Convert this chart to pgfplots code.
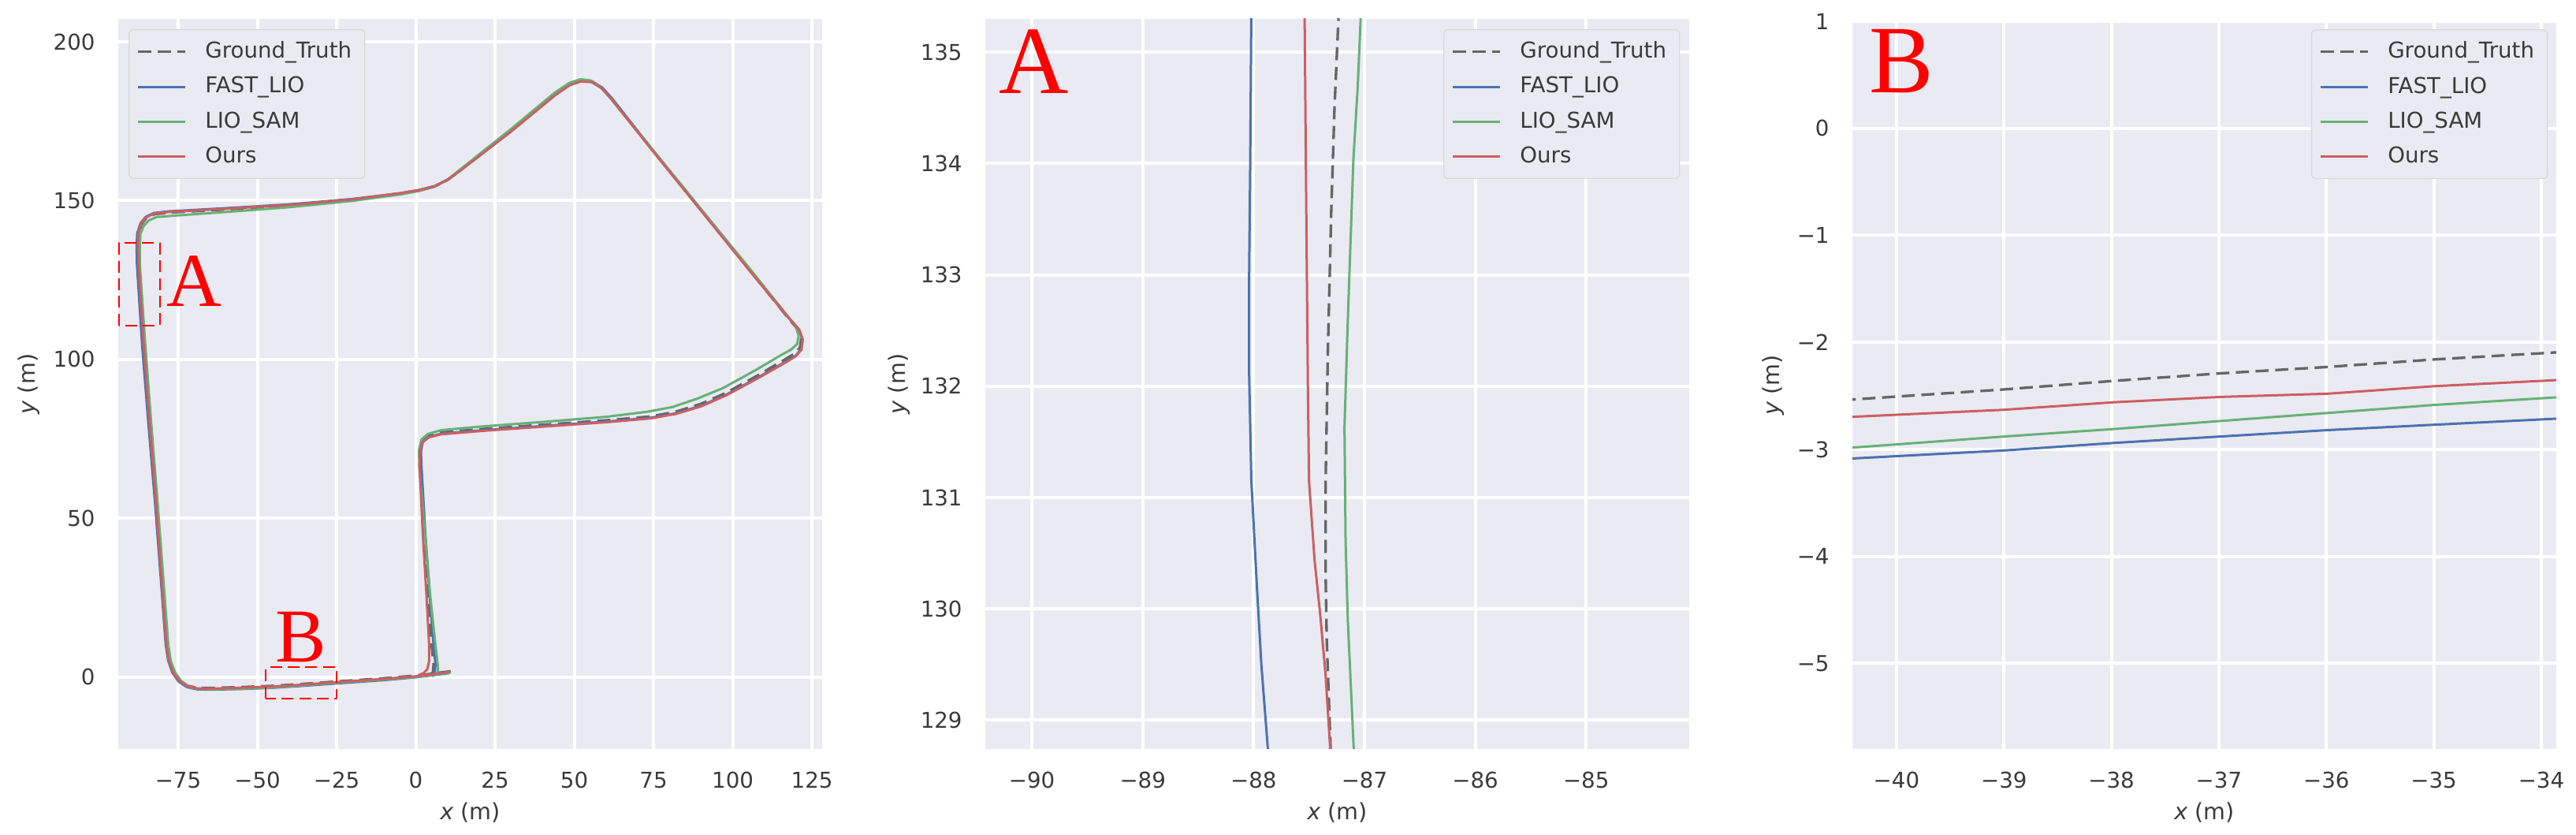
\documentclass[border=0pt]{standalone}
\usepackage{fontspec}
\setmainfont{DejaVu Sans}
\newfontfamily\serifA{Liberation Serif}
\usepackage{pgfplots}
\pgfplotsset{compat=1.18}

\definecolor{bgcol}{HTML}{EAEAF2}
\definecolor{txt}{HTML}{3A3A3A}
\definecolor{gtcol}{HTML}{666666}
\definecolor{fastcol}{HTML}{4C72B0}
\definecolor{samcol}{HTML}{55A868}
\definecolor{ourcol}{HTML}{C44E52}
\newcommand{\lgap}[1]{\hbox{\hspace*{5pt}#1}}

\pgfplotsset{
  traj/.style={
    scale only axis, width=267.9pt, height=277.8pt,
    axis background/.style={fill=bgcol},
    axis line style={draw=none},
    major tick length=0pt,
    grid=major, grid style={white, line width=1.2pt},
    tick label style={font=\fontsize{8.3}{10}\selectfont, text=txt},
    label style={font=\fontsize{8.6}{10}\selectfont, text=txt},
    /pgf/number format/assume math mode=true,
    xticklabel style={yshift=-5.3pt},
    yticklabel style={xshift=-5.3pt},
    xlabel={{\itshape x} (m)}, ylabel={{\itshape y} (m)},
    xlabel style={at={(axis description cs:0.5,-0.0875)}, anchor=center},
    legend style={font=\fontsize{8.3}{10}\selectfont, text=txt, fill=bgcol,
      draw=black!15, rounded corners=1.5pt, row sep=1.6pt,
      inner xsep=3pt, inner ysep=2.5pt},
    legend cell align=left,
    legend image code/.code={\draw[#1] (0pt,0pt) -- (18pt,0pt);},
  },
  gt/.style={gtcol, line width=1.0pt, dash pattern=on 5pt off 2.5pt},
  fl/.style={fastcol, line width=0.9pt},
  ls/.style={samcol!90!white, line width=0.9pt},
  ou/.style={ourcol!90!white, line width=0.9pt},
}

\begin{document}
\begin{tikzpicture}
\useasboundingbox (0,0) rectangle (980.4pt,317.7pt);

% ---- full trajectory ----
\begin{axis}[traj, at={(45pt,32.7pt)}, anchor=south west,
  xmin=-93.9, xmax=128.2, ymin=-22.7, ymax=207.2,
  xtick={-75,-50,-25,0,25,50,75,100,125},
  xticklabels={−75,−50,−25,0,25,50,75,100,125},
  ytick={0,50,100,150,200},
  ylabel style={at={(axis description cs:-0.1265,0.5)}, anchor=center},
  legend style={at={(axis description cs:0.0146,0.986)}, anchor=north west},
  line join=round,
  every axis plot/.append style={line width=1.1pt}]
\addplot[gt] coordinates {(11,1.8) (5,1.0) (0,0.4) (-10,-0.4) (-20,-1.1) (-30,-1.8) (-37,-2.3) (-45,-2.8) (-55,-3.2) (-65,-3.5) (-69,-3.4) (-72,-2.8) (-74.5,-1.2) (-76.5,1.5) (-77.8,5) (-78.6,10) (-80,30) (-81.8,55) (-83.8,80) (-85.7,105) (-87.3,130) (-87.6,136) (-87.5,139.5) (-86.6,142.5) (-85,144.5) (-82.5,145.7) (-78,146.2) (-60,147.2) (-40,148.5) (-20,150.3) (-5,152.2) (1,153.2) (6,154.5) (10,156.5) (14,159.5) (30,172) (44,183.5) (48.5,186.5) (52,187.7) (55.5,187.4) (58.5,185.5) (61.5,182.3) (75,165.5) (90,147) (105,128.5) (117.5,113) (120.5,109.5) (121.6,106.5) (121.2,103.7) (119.5,101.8) (116.5,100) (108,95) (98,89.5) (90,86) (82,83.5) (74,82) (60,80.8) (40,79.4) (20,78) (8,77) (4,76) (2,74.5) (1.3,71.5) (1.4,66) (2.5,45) (3.8,25) (5,10) (5.6,4) (5.4,1.5) (4.5,0.6)};
\addlegendentry{\lgap{Ground\_Truth}}
\addplot[fl] coordinates {(10.5,1.2) (5,0.5) (0,-0.1) (-10,-1.0) (-20,-1.7) (-30,-2.4) (-37,-2.9) (-45,-3.4) (-55,-3.8) (-65,-4.0) (-69,-3.9) (-72.2,-3.2) (-74.8,-1.5) (-76.8,1.3) (-78.1,5) (-78.9,10) (-80.4,30) (-82.3,55) (-84.4,80) (-86.4,105) (-88.0,130) (-88.1,136) (-87.9,139.7) (-86.9,142.8) (-85.2,144.9) (-82.6,146.1) (-78,146.6) (-60,147.6) (-40,148.8) (-20,150.5) (-5,152.3) (1,153.3) (6,154.6) (10,156.6) (14,159.5) (30,171.8) (44,183.3) (48.5,186.4) (52,187.7) (55.7,187.5) (58.8,185.6) (61.8,182.3) (75,165.6) (90,147.1) (105,128.6) (117.8,113) (120.9,109.4) (122.0,106.3) (121.6,103.2) (119.8,101.1) (116.7,99.3) (108,94.3) (98,88.9) (90,85.4) (82,83) (74,81.6) (60,80.4) (40,79.0) (20,77.6) (8,76.6) (4.2,75.6) (2.2,74) (1.6,71) (1.8,66) (3,45) (4.4,25) (5.6,10) (6.2,4) (6,1.2) (5,0.2)};
\addlegendentry{\lgap{FAST\_LIO}}
\addplot[ls] coordinates {(11,1.4) (5,0.6) (0,0.0) (-10,-0.8) (-20,-1.5) (-30,-2.2) (-37,-2.74) (-45,-3.3) (-55,-3.7) (-65,-3.9) (-69,-3.7) (-71.6,-3.0) (-74,-1.3) (-76,1.5) (-77.3,5) (-78.1,10) (-79.6,30) (-81.5,55) (-83.5,80) (-85.4,105) (-87.1,130) (-87.1,136) (-86.9,139.5) (-85.9,142) (-84.2,143.8) (-81.8,144.8) (-77,145.2) (-60,146.4) (-40,147.9) (-20,149.9) (-5,151.9) (1,153) (6,154.4) (10,156.6) (14,159.8) (30,172.5) (44,184.1) (48.5,187.1) (52,188.2) (55.3,187.8) (58.2,185.8) (61.2,182.5) (75,165.7) (90,147.3) (105,129) (117,114) (119.8,110.5) (120.8,107.5) (120.3,104.8) (118.3,103) (115.5,101.5) (107,96.5) (97,91) (89,87.7) (81,85) (73,83.5) (60,81.9) (40,80.3) (20,78.8) (8,77.7) (3.8,76.5) (1.8,74.8) (1.0,71.5) (1.1,66) (2.9,45) (4.6,25) (6.2,10) (6.9,4) (7,1.5) (6.5,0.5)};
\addlegendentry{\lgap{LIO\_SAM}}
\addplot[ou] coordinates {(10.8,1.6) (5,0.8) (0,0.2) (-10,-0.6) (-20,-1.3) (-30,-2.0) (-37,-2.51) (-45,-3.0) (-55,-3.4) (-65,-3.7) (-69,-3.6) (-72,-3.0) (-74.6,-1.3) (-76.6,1.4) (-77.9,5) (-78.7,10) (-80.2,30) (-82,55) (-84,80) (-85.9,105) (-87.5,130) (-87.7,136) (-87.6,139.6) (-86.7,142.7) (-85.1,144.7) (-82.6,145.9) (-78,146.4) (-60,147.4) (-40,148.6) (-20,150.4) (-5,152.3) (1,153.3) (6,154.5) (10,156.5) (14,159.4) (30,171.7) (44,183.2) (48.5,186.3) (52,187.5) (55.6,187.3) (58.6,185.4) (61.6,182.1) (75,165.3) (90,146.8) (105,128.3) (117.9,112.7) (121,109.3) (122.1,106.2) (121.7,103.1) (119.9,101) (116.8,99.1) (108,94.1) (98,88.7) (90,85.2) (82,82.8) (74,81.4) (60,80.2) (40,78.8) (20,77.4) (8,76.4) (4,75.4) (2,73.8) (1.2,70.8) (1.2,66) (2.2,45) (3.4,25) (4.2,10) (4.2,5) (3.6,2.4) (2.4,1.2) (1,0.6)};
\addlegendentry{\lgap{Ours}}
\draw[red, line width=0.6pt, dash pattern=on 4.5pt off 2.2pt] (axis cs:-93.7,110.7) rectangle (axis cs:-80.7,136.6);
\draw[red, line width=0.6pt, dash pattern=on 4.5pt off 2.2pt] (axis cs:-47.3,-6.8) rectangle (axis cs:-25,3.0);
\node[text=red, font=\serifA\fontsize{29}{29}\selectfont] at (axis cs:-70,124.7) {A};
\node[text=red, font=\serifA\fontsize{29}{29}\selectfont] at (axis cs:-36.3,12.6) {B};
\end{axis}

% ---- zoom A ----
\begin{axis}[traj, at={(375pt,32.7pt)}, anchor=south west,
  xmin=-90.42, xmax=-84.07, ymin=128.74, ymax=135.30,
  xtick={-90,-89,-88,-87,-86,-85},
  xticklabels={−90,−89,−88,−87,−86,−85},
  ytick={129,130,131,132,133,134,135},
  ylabel style={at={(axis description cs:-0.123,0.5)}, anchor=center},
  legend style={at={(axis description cs:0.987,0.986)}, anchor=north east}]
\addplot[gt] coordinates {(-87.23,135.4) (-87.27,134.5) (-87.30,133.55) (-87.33,132.3) (-87.35,131.15) (-87.35,130.3) (-87.34,129.72) (-87.30,128.6)};
\addlegendentry{\lgap{Ground\_Truth}}
\addplot[fl] coordinates {(-88.02,135.4) (-88.03,134.03) (-88.04,133.0) (-88.04,132.1) (-88.02,131.15) (-87.97,130.2) (-87.93,129.5) (-87.86,128.6)};
\addlegendentry{\lgap{FAST\_LIO}}
\addplot[ls] coordinates {(-87.03,135.4) (-87.06,134.7) (-87.10,134.03) (-87.15,132.59) (-87.18,131.63) (-87.17,130.6) (-87.15,129.9) (-87.09,128.6)};
\addlegendentry{\lgap{LIO\_SAM}}
\addplot[ou] coordinates {(-87.54,135.4) (-87.53,134.2) (-87.52,133.07) (-87.51,132.0) (-87.50,131.15) (-87.45,130.44) (-87.40,129.96) (-87.35,129.4) (-87.30,128.6)};
\addlegendentry{\lgap{Ours}}
\node[text=red, font=\serifA\fontsize{36.7}{36.7}\selectfont] at (axis description cs:0.0685,0.942) {A};
\end{axis}

% ---- zoom B ----
\begin{axis}[traj, at={(705pt,32.7pt)}, anchor=south west, height=276.9pt,
  xmin=-40.41, xmax=-33.86, ymin=-5.80, ymax=1.0,
  xtick={-40,-39,-38,-37,-36,-35,-34},
  xticklabels={−40,−39,−38,−37,−36,−35,−34},
  ytick={-5,-4,-3,-2,-1,0,1},
  yticklabels={−5,−4,−3,−2,−1,0,1},
  ylabel style={at={(axis description cs:-0.112,0.5)}, anchor=center},
  legend style={at={(axis description cs:0.988,0.989)}, anchor=north east}]
\addplot[gt] coordinates {(-40.5,-2.54) (-39.0,-2.44) (-37.98,-2.36) (-36.99,-2.29) (-35.99,-2.23) (-35.0,-2.16) (-33.8,-2.09)};
\addlegendentry{\lgap{Ground\_Truth}}
\addplot[fl] coordinates {(-40.5,-3.09) (-39.0,-3.01) (-37.98,-2.94) (-36.99,-2.88) (-35.99,-2.82) (-35.0,-2.77) (-33.8,-2.71)};
\addlegendentry{\lgap{FAST\_LIO}}
\addplot[ls] coordinates {(-40.5,-2.99) (-39.0,-2.88) (-37.98,-2.81) (-36.99,-2.735) (-35.99,-2.66) (-35.0,-2.585) (-33.8,-2.51)};
\addlegendentry{\lgap{LIO\_SAM}}
\addplot[ou] coordinates {(-40.5,-2.70) (-39.0,-2.63) (-37.98,-2.56) (-36.99,-2.51) (-35.99,-2.48) (-35.0,-2.41) (-33.8,-2.35)};
\addlegendentry{\lgap{Ours}}
\node[text=red, font=\serifA\fontsize{36.7}{36.7}\selectfont] at (axis description cs:0.070,0.945) {B};
\end{axis}
\end{tikzpicture}
\end{document}
